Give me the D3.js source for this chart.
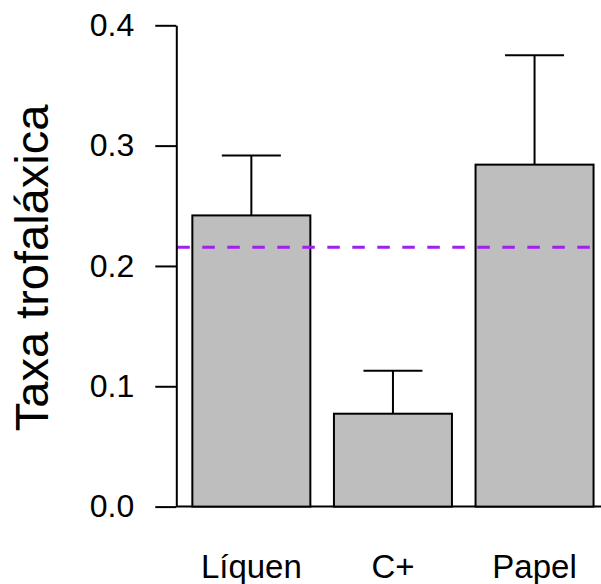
<!DOCTYPE html>
<html>
<head>
<meta charset="utf-8">
<script src="https://cdn.jsdelivr.net/npm/d3@7"></script>
<style>
  body { margin: 0; background: #fff; }
  svg { display: block; font-family: "Liberation Sans", Arial, Helvetica, sans-serif; }
</style>
</head>
<body>
<div id="chart"></div>
<script>
// Data
const categories = ['Líquen', 'C+', 'Papel'];
const means = [0.242, 0.0772, 0.2842];
const errors = [0.0497, 0.0358, 0.0909];
const refLine = 0.2155;
const yTicks = [0.0, 0.1, 0.2, 0.3, 0.4];
const yLabel = 'Taxa trofaláxica';

const width = 601, height = 584;

const svg = d3.select('#chart')
    .append('svg')
    .attr('width', width)
    .attr('height', height);

// Bars laid out like R barplot: width 1, space 0.2
const barW = 1, space = 0.2;
const lefts = categories.map((d, i) => space + i * (barW + space));
const x = d3.scaleLinear()
    .domain([0.064, 3.736])
    .range([176.3, 609.6]);

const y = d3.scaleLinear()
    .domain([0, 0.4])
    .range([506.6, 25.3]);

// Baseline
svg.append('line')
    .attr('x1', x(0.064))
    .attr('x2', width)
    .attr('y1', y(0))
    .attr('y2', y(0))
    .attr('stroke', '#000')
    .attr('stroke-width', 2);

// Bars
svg.selectAll('rect.bar')
    .data(means)
    .enter()
    .append('rect')
    .attr('class', 'bar')
    .attr('x', (d, i) => x(lefts[i]))
    .attr('width', (d, i) => x(lefts[i] + barW) - x(lefts[i]))
    .attr('y', d => y(d))
    .attr('height', d => y(0) - y(d))
    .attr('fill', '#bebebe')
    .attr('stroke', '#000')
    .attr('stroke-width', 2);

// Error bars (upper only)
means.forEach((m, i) => {
    const cx = x(lefts[i] + barW / 2);
    const g = svg.append('g').attr('stroke', '#000').attr('stroke-width', 2);
    g.append('line')
        .attr('x1', cx).attr('x2', cx)
        .attr('y1', y(m)).attr('y2', y(m + errors[i]));
    g.append('line')
        .attr('x1', x(lefts[i] + 0.25)).attr('x2', x(lefts[i] + 0.75))
        .attr('y1', y(m + errors[i])).attr('y2', y(m + errors[i]));
});

// Reference line
svg.append('line')
    .attr('x1', x(0.064) + 1)
    .attr('x2', width)
    .attr('y1', y(refLine))
    .attr('y2', y(refLine))
    .attr('stroke', '#a020f0')
    .attr('stroke-width', 3)
    .attr('stroke-dasharray', '12.5,12.5');

// Y axis
svg.append('g')
    .attr('transform', `translate(${x(0.064)},0)`)
    .call(d3.axisLeft(y)
        .tickValues(yTicks)
        .tickFormat(d3.format('.1f'))
        .tickSize(21)
        .tickSizeOuter(0)
        .tickPadding(21))
    .call(g => g.select('.domain').attr('stroke', '#000').attr('stroke-width', 2))
    .call(g => g.selectAll('.tick line').attr('stroke', '#000').attr('stroke-width', 2))
    .call(g => g.selectAll('text')
        .attr('font-size', '32px')
        .attr('fill', '#000')
        .attr('font-family', '"Liberation Sans", Arial, Helvetica, sans-serif'));

// X labels
svg.selectAll('text.xlab')
    .data(categories)
    .enter()
    .append('text')
    .attr('class', 'xlab')
    .attr('x', (d, i) => x(lefts[i] + barW / 2))
    .attr('y', 578)
    .attr('text-anchor', 'middle')
    .attr('font-size', '33px')
    .attr('fill', '#000')
    .text(d => d);

// Y label
svg.append('text')
    .attr('transform', `translate(48,${(y(0) + y(0.4)) / 2 + 2}) rotate(-90)`)
    .attr('text-anchor', 'middle')
    .attr('font-size', '47px')
    .attr('fill', '#000')
    .text(yLabel);
</script>
</body>
</html>
